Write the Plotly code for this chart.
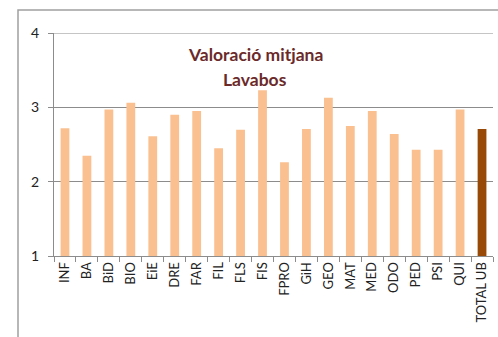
import plotly.graph_objects as go

# Average rating of washrooms per faculty, plus the university total
categories = ["INF", "BA", "BiD", "BIO", "EiE", "DRE", "FAR", "FIL", "FLS", "FIS",
              "FPRO", "GiH", "GEO", "MAT", "MED", "ODO", "PED", "PSI", "QUI", "TOTAL UB"]
values = [2.72, 2.35, 2.97, 3.06, 2.61, 2.90, 2.95, 2.45, 2.70, 3.23,
          2.26, 2.71, 3.13, 2.75, 2.95, 2.64, 2.43, 2.43, 2.97, 2.71]
y_ticks = [1, 2, 3, 4]

light = "#FAC090"
dark = "#984807"
colors = [dark if c == "TOTAL UB" else light for c in categories]

font_family = "Lato, 'Liberation Sans', sans-serif"
grid_color = "#8C8C8C"

fig = go.Figure(go.Bar(
    x=categories,
    y=values,
    marker=dict(color=colors, line=dict(width=0)),
    width=0.4,
))

fig.update_layout(
    width=498,
    height=337,
    margin=dict(l=54, r=5, t=33, b=81),
    paper_bgcolor="white",
    plot_bgcolor="white",
    showlegend=False,
    font=dict(family=font_family, color="#222222"),
)

fig.update_yaxes(
    range=[1, 4],
    tickvals=y_ticks,
    showgrid=True,
    gridcolor=grid_color,
    gridwidth=1,
    showline=True,
    linecolor=grid_color,
    linewidth=1,
    ticks="outside",
    ticklen=5,
    tickcolor=grid_color,
    ticklabelstandoff=6,
    tickfont=dict(size=14, color="#222222"),
    zeroline=False,
)

fig.update_xaxes(
    showline=True,
    linecolor=grid_color,
    linewidth=1,
    ticks="outside",
    ticklen=5,
    tickcolor=grid_color,
    tickangle=-90,
    tickfont=dict(size=13, color="#222222"),
    tickson="boundaries",
)

# Top gridline at the upper end of the value range
fig.add_shape(type="line", xref="paper", yref="y",
              x0=0, x1=1, y0=4, y1=4,
              line=dict(color=grid_color, width=1))

# Chart title, two lines centred over the bars
title_color = "#6B2A2A"
fig.add_annotation(x=0.458, y=0.905, xref="paper", yref="paper", yanchor="middle",
                   text="<b>Valoració mitjana</b>", showarrow=False,
                   font=dict(size=17.5, color=title_color, family=font_family))
fig.add_annotation(x=0.458, y=0.79, xref="paper", yref="paper", yanchor="middle",
                   text="<b>Lavabos</b>", showarrow=False,
                   font=dict(size=17.5, color=title_color, family=font_family))

# Outer chart-area frame
fig.add_shape(type="rect", xref="paper", yref="paper",
              x0=-0.082, x1=1.1, y0=-0.6, y1=1.103,
              line=dict(color="#A0A0A0", width=1.5), layer="below")

fig.write_html("out.html")
